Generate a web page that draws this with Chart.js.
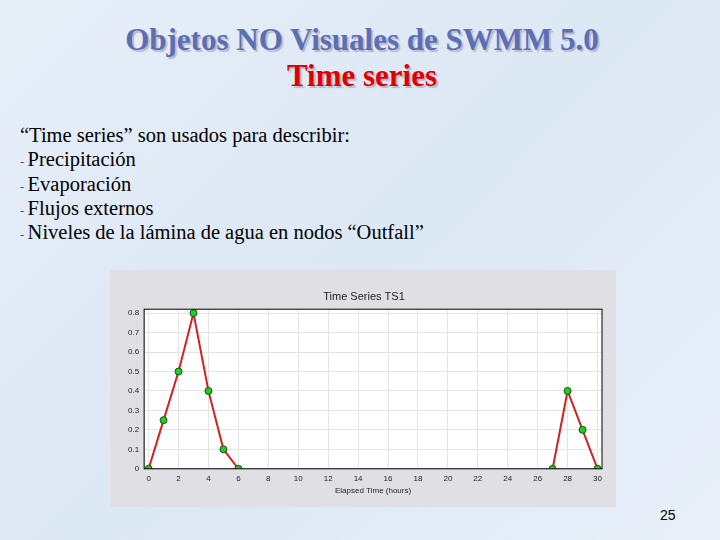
<!DOCTYPE html>
<html><head><meta charset="utf-8">
<script src="https://cdn.jsdelivr.net/npm/chart.js@4"></script>
<style>
body{margin:0;width:720px;height:540px;overflow:hidden;background:linear-gradient(135deg,#e6eef8,#dde8f5 50%,#e8eff9);font-family:"Liberation Serif",serif;position:relative}
.t{position:absolute;left:0;width:724px;text-align:center;font-weight:bold;font-size:31px;text-shadow:2px 2px 1px #b8b8c8}
#t1{top:22px;color:#5b6fb5}
#t2{top:58px;color:#e00000}
#body{position:absolute;left:20px;top:123px;font-size:20.5px;color:#000}
#body div{height:24.3px;line-height:24.3px;white-space:nowrap}
.d{font-size:13px;color:#555;line-height:0}
#box{position:absolute;left:110px;top:270px;width:506px;height:237px;background:#e0e0e4}
#num{position:absolute;left:660px;top:507px;font-family:"Liberation Sans",sans-serif;font-size:14px}
</style></head><body>
<div class="t" id="t1">Objetos NO Visuales de SWMM 5.0</div>
<div class="t" id="t2">Time series</div>
<div id="body"><div>“Time series” son usados para describir:</div>
<div><span class="d">- </span>Precipitación</div>
<div><span class="d">- </span>Evaporación</div>
<div><span class="d">- </span>Flujos externos</div>
<div><span class="d">- </span>Niveles de la lámina de agua en nodos “Outfall”</div></div>
<div id="box"><canvas id="c" width="506" height="237"></canvas></div>
<div id="num">25</div>
<script>
const hours1 = [0, 1, 2, 3, 4, 5, 6];
const values1 = [0, 0.25, 0.5, 0.8, 0.4, 0.1, 0];
const hours2 = [27, 28, 29, 30];
const values2 = [0, 0.4, 0.2, 0];
const xTicks = [0, 2, 4, 6, 8, 10, 12, 14, 16, 18, 20, 22, 24, 26, 28, 30];
const yTicks = [0, 0.1, 0.2, 0.3, 0.4, 0.5, 0.6, 0.7, 0.8];

const toPts = (xs, ys) => xs.map((x, i) => ({ x, y: ys[i] }));
const style = {
    showLine: true,
    borderColor: "#d42020",
    borderWidth: 2,
    pointBackgroundColor: "#22cc22",
    pointBorderColor: "#115511",
    pointRadius: 3.5,
    pointBorderWidth: 1,
};
const font = { family: "Liberation Sans", size: 8 };

new Chart(document.getElementById("c"), {
    type: "scatter",
    data: {
        datasets: [
            { ...style, data: toPts(hours1, values1) },
            { ...style, data: toPts(hours2, values2) },
        ],
    },
    plugins: [{
        id: "bg",
        beforeDraw(chart) {
            const { ctx, chartArea: a } = chart;
            ctx.fillStyle = "#fff";
            ctx.fillRect(a.left, a.top, a.right - a.left, a.bottom - a.top);
        },
        afterDraw(chart) {
            const { ctx, chartArea: a } = chart;
            ctx.strokeStyle = "#000";
            ctx.lineWidth = 1;
            ctx.strokeRect(a.left, a.top, a.right - a.left, a.bottom - a.top);
        },
    }],
    options: {
        responsive: false,
        animation: false,
        layout: { padding: { left: 16, right: 14, top: 4, bottom: 10 } },
        plugins: {
            legend: { display: false },
            tooltip: { enabled: false },
            title: { display: true, text: "Time Series TS1", color: "#222", font: { family: "Liberation Sans", size: 11, weight: "normal" }, padding: { top: 16, bottom: 6 } },
        },
        scales: {
            x: {
                type: "linear", min: -0.3, max: 30.3,
                afterBuildTicks: (s) => { s.ticks = xTicks.map((v) => ({ value: v })); },
                grid: { color: "#e4e4e4", drawTicks: true, tickLength: 3 },
                ticks: { color: "#222", font, padding: 2 },
                title: { display: true, text: "Elapsed Time (hours)", color: "#222", font, padding: 1 },
            },
            y: {
                min: 0, max: 0.82,
                afterBuildTicks: (s) => { s.ticks = yTicks.map((v) => ({ value: v })); },
                grid: { color: "#e4e4e4", tickLength: 3 },
                ticks: { color: "#222", font, padding: 2, callback: (v) => v === 0 ? "0" : v.toFixed(1) },
            },
        },
    },
});
</script>
</body></html>
